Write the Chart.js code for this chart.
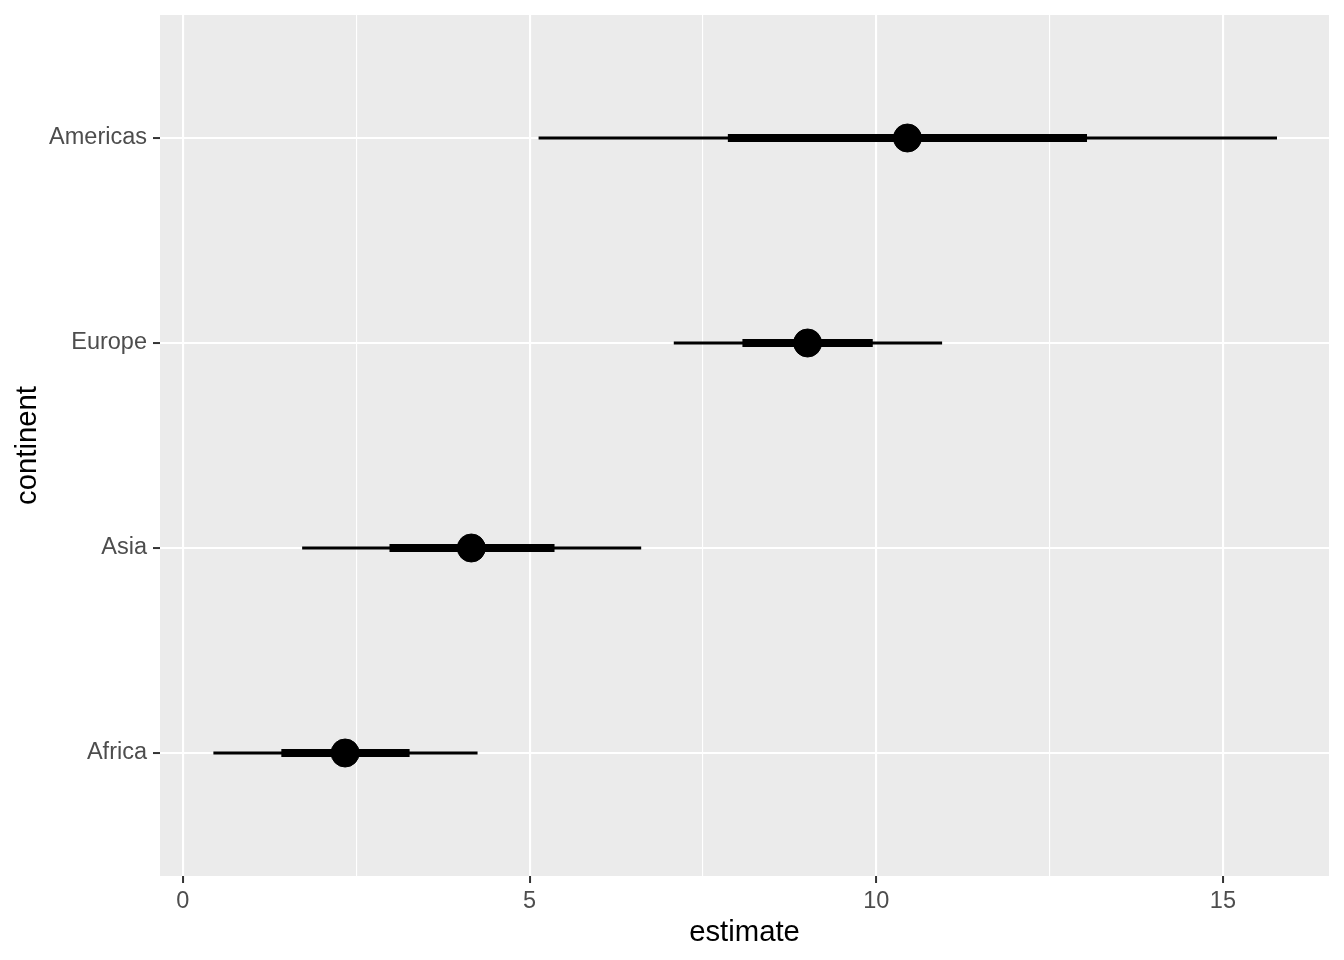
<!DOCTYPE html>
<html>
<head>
<meta charset="utf-8">
<script src="https://cdn.jsdelivr.net/npm/chart.js@4"></script>
<style>
    html, body { margin: 0; padding: 0; background: #ffffff; }
    canvas { display: block; }
</style>
</head>
<body>
<canvas id="chart" width="1344" height="960"></canvas>
<script>
// continents from bottom to top
const continents = ['Africa', 'Asia', 'Europe', 'Americas']
const estimate = [2.34, 4.16, 9.01, 10.45]
const innerLower = [1.42, 2.98, 8.07, 7.86]
const innerUpper = [3.27, 5.36, 9.95, 13.04]
const outerLower = [0.44, 1.72, 7.08, 5.13]
const outerUpper = [4.25, 6.61, 10.95, 15.78]
const xTicks = [0, 2.5, 5, 7.5, 10, 12.5, 15]

const tickFont = {family: 'Liberation Sans, Arial, sans-serif', size: 23.5}
const titleFont = {family: 'Liberation Sans, Arial, sans-serif', size: 29.3}

const panelBackground = {
    id: 'panelBackground',
    beforeDraw(chart) {
        const {ctx, chartArea} = chart
        ctx.save()
        ctx.fillStyle = '#EBEBEB'
        ctx.fillRect(chartArea.left, chartArea.top, chartArea.right - chartArea.left, chartArea.bottom - chartArea.top)
        ctx.restore()
    }
}

function intervalDataset(lower, upper, i, width) {
    return {
        type: 'line',
        data: [{x: lower[i], y: i + 1}, {x: upper[i], y: i + 1}],
        borderColor: '#000000',
        borderWidth: width,
        borderCapStyle: 'butt',
        pointRadius: 0,
        order: width > 5 ? 1 : 2
    }
}

const datasets = [{
    type: 'scatter',
    data: estimate.map((v, i) => ({x: v, y: i + 1})),
    backgroundColor: '#000000',
    borderColor: '#000000',
    pointRadius: 14,
    order: 0
}]

continents.forEach((c, i) => {
    datasets.push(intervalDataset(innerLower, innerUpper, i, 8))
    datasets.push(intervalDataset(outerLower, outerUpper, i, 3))
})

new Chart(document.getElementById('chart'), {
    type: 'scatter',
    data: {datasets: datasets},
    plugins: [panelBackground],
    options: {
        responsive: false,
        animation: false,
        devicePixelRatio: 1,
        layout: {padding: {top: 15, right: 15, left: 0, bottom: 0}},
        plugins: {
            legend: {display: false},
            tooltip: {enabled: false}
        },
        scales: {
            x: {
                type: 'linear',
                min: -0.33,
                max: 16.53,
                afterBuildTicks: (scale) => {
                    scale.ticks = xTicks.map(v => ({value: v}))
                },
                afterFit: (scale) => {
                    scale.height = 84
                    scale.paddingLeft = 0
                    scale.paddingRight = 0
                },
                border: {display: false},
                grid: {
                    color: '#FFFFFF',
                    lineWidth: (ctx) => ctx.tick && ctx.tick.value % 5 === 0 ? 2.1 : 1.1,
                    tickColor: (ctx) => ctx.tick && ctx.tick.value % 5 === 0 ? '#333333' : 'rgba(0,0,0,0)',
                    tickWidth: 2,
                    tickLength: 7
                },
                ticks: {
                    autoSkip: false,
                    maxRotation: 0,
                    color: '#4D4D4D',
                    font: tickFont,
                    padding: 4,
                    callback: (v) => v % 5 === 0 ? String(v) : ''
                },
                title: {
                    display: true,
                    text: 'estimate',
                    color: '#000000',
                    font: titleFont,
                    padding: {top: 0, bottom: 10}
                }
            },
            y: {
                type: 'linear',
                min: 0.4,
                max: 4.6,
                afterBuildTicks: (scale) => {
                    scale.ticks = continents.map((c, i) => ({value: i + 1}))
                },
                afterFit: (scale) => {
                    scale.width = 160
                    scale.paddingTop = 0
                    scale.paddingBottom = 0
                },
                border: {display: false},
                grid: {
                    color: '#FFFFFF',
                    lineWidth: 2.1,
                    tickColor: '#333333',
                    tickWidth: 2,
                    tickLength: 7
                },
                ticks: {
                    autoSkip: false,
                    color: '#4D4D4D',
                    font: tickFont,
                    padding: 6,
                    callback: (v) => continents[v - 1]
                },
                title: {
                    display: true,
                    text: 'continent',
                    color: '#000000',
                    font: titleFont,
                    padding: {top: 10, bottom: 0}
                }
            }
        }
    }
})
</script>
</body>
</html>
